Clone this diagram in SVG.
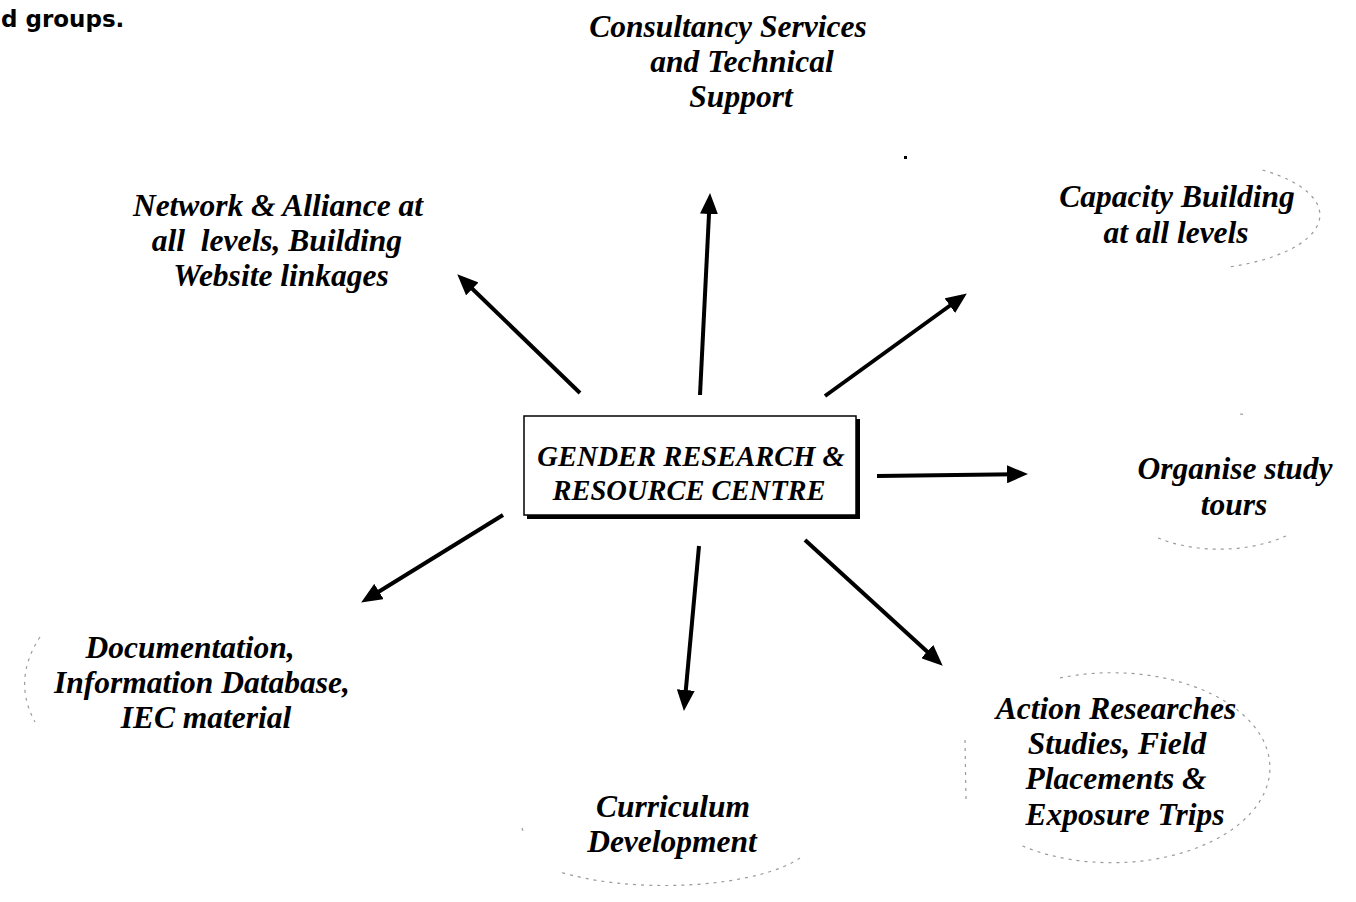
<svg xmlns="http://www.w3.org/2000/svg" width="1356" height="902" viewBox="0 0 1356 902">
<defs>
<style>
.lbl{font-family:"Liberation Serif","Times New Roman",serif;font-weight:bold;font-style:italic;font-size:31.5px;fill:#000;text-anchor:middle}
.ctr{font-family:"Liberation Serif","Times New Roman",serif;font-weight:bold;font-style:italic;font-size:28.5px;fill:#000;text-anchor:middle}
.arr{stroke:#000;stroke-width:4;fill:none;marker-end:url(#ah)}
.faint{stroke:#9a9a9a;stroke-width:1.2;fill:none;stroke-dasharray:3 5}
</style>
<marker id="ah" markerUnits="userSpaceOnUse" markerWidth="22" markerHeight="18" refX="8" refY="9" orient="auto">
<path d="M0,0 L21,9 L0,18 z" fill="#000"/>
</marker>
</defs>
<rect width="1356" height="902" fill="#fff"/>
<text x="1" y="27" font-family="'DejaVu Sans',sans-serif" font-size="23" font-weight="bold" fill="#000">d groups.</text>
<rect x="904" y="156" width="3" height="3" fill="#000"/>

<g id="faint-outlines">
<path class="faint" d="M1262.5,170 A135,55 0 0 1 1226.7,267.3"/>
<path class="faint" d="M1286,536 A110,65 0 0 1 1158,538"/>
<path class="faint" d="M1240,414 L1248,415"/>
<path class="faint" d="M1060,678 A158,95 0 1 1 1020,845"/>
<path class="faint" d="M965,740 L966,800"/>
<path class="faint" d="M40,637 Q12,680 35,722"/>
<path class="faint" d="M800,858 A150,48 0 0 1 560,872"/>
<path class="faint" d="M522,828 L524,834"/>
</g>

<g id="connectors">
<line class="arr" x1="580" y1="393" x2="466.6" y2="283.3"/>
<line class="arr" x1="700" y1="395" x2="709.4" y2="206"/>
<line class="arr" x1="825" y1="396" x2="956.3" y2="301"/>
<line class="arr" x1="877" y1="476" x2="1015" y2="474.2"/>
<line class="arr" x1="503" y1="515" x2="372.2" y2="595.7"/>
<line class="arr" x1="699" y1="546" x2="685.1" y2="698"/>
<line class="arr" x1="805" y1="540" x2="933.1" y2="656.9"/>
</g>

<g id="centre">
<rect x="527" y="419" width="333" height="100" fill="#000"/>
<rect x="524" y="416" width="332" height="99" fill="#fff" stroke="#000" stroke-width="1.5"/>
<text class="ctr" x="691" y="466">GENDER RESEARCH &amp;</text>
<text class="ctr" x="689" y="500">RESOURCE CENTRE</text>
</g>

<g id="consultancy">
<text class="lbl" x="728" y="37">Consultancy Services</text>
<text class="lbl" x="742" y="72">and Technical</text>
<text class="lbl" x="741" y="107">Support</text>
</g>

<g id="network">
<text class="lbl" x="278" y="216">Network &amp; Alliance at</text>
<text class="lbl" x="277" y="251" xml:space="preserve">all  levels, Building</text>
<text class="lbl" x="281" y="286">Website linkages</text>
</g>

<g id="capacity">
<text class="lbl" x="1177" y="207">Capacity Building</text>
<text class="lbl" x="1176" y="243">at all levels</text>
</g>

<g id="tours">
<text class="lbl" x="1235" y="479">Organise study</text>
<text class="lbl" x="1234" y="515">tours</text>
</g>

<g id="documentation">
<text class="lbl" x="190" y="658">Documentation,</text>
<text class="lbl" x="202" y="693">Information Database,</text>
<text class="lbl" x="206" y="728">IEC material</text>
</g>

<g id="curriculum">
<text class="lbl" x="673" y="817">Curriculum</text>
<text class="lbl" x="672" y="852">Development</text>
</g>

<g id="action">
<text class="lbl" x="1116" y="719">Action Researches</text>
<text class="lbl" x="1117" y="754">Studies, Field</text>
<text class="lbl" x="1116" y="789">Placements &amp;</text>
<text class="lbl" x="1125" y="825">Exposure Trips</text>
</g>
</svg>
